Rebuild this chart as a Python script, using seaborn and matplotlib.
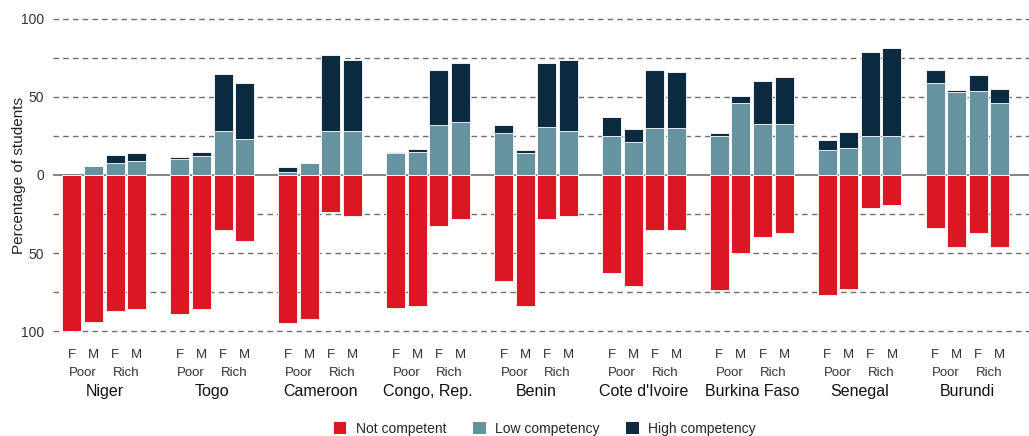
import numpy as np
import pandas as pd
import matplotlib
matplotlib.use("Agg")
import matplotlib.pyplot as plt
from matplotlib.patches import Patch
from matplotlib import transforms
import seaborn as sns

# ---------------- data ----------------
countries = ["Niger", "Togo", "Cameroon", "Congo, Rep.", "Benin",
             "Cote d'Ivoire", "Burkina Faso", "Senegal", "Burundi"]
sexes = ["F", "M", "F", "M"]
wealth = ["Poor", "Rich"]

# order per country: F Poor, M Poor, F Rich, M Rich
not_competent = [100, 94, 87, 86,
                 89, 86, 35, 42,
                 95, 92, 24, 26,
                 85, 84, 33, 28,
                 68, 84, 28, 26,
                 63, 71, 35, 35,
                 74, 50, 40, 37,
                 77, 73, 21, 19,
                 34, 46, 37, 46]
low_competency = [0, 6, 8, 9,
                  10, 12, 28, 23,
                  2, 8, 28, 28,
                  14, 15, 32, 34,
                  27, 14, 31, 28,
                  25, 21, 30, 30,
                  25, 46, 33, 33,
                  16, 17, 25, 25,
                  59, 53, 54, 46]
high_competency = [0, 0, 5, 5,
                   1.5, 2.5, 37, 36,
                   3, 0, 49, 46,
                   1, 1.5, 35.5, 38,
                   5, 2, 41, 46,
                   12, 8.5, 37, 36,
                   2, 4.5, 27, 30,
                   6.5, 10.5, 54, 56.5,
                   8.5, 1.5, 10, 9]

series_labels = ["Not competent", "Low competency", "High competency"]
colors = ["#DC1623", "#6594A0", "#0C2A40"]

# ---------------- build frame ----------------
rows = []
for i, c in enumerate(countries):
    for j in range(4):
        k = i * 4 + j
        rows.append(dict(country=c, sex=sexes[j], wealth=wealth[j // 2],
                         pos=i * 5 + j,
                         nc=-not_competent[k],
                         low=low_competency[k],
                         top=low_competency[k] + high_competency[k]))
df = pd.DataFrame(rows)

sns.set_theme(style="white")
plt.rcParams["font.family"] = ["Liberation Sans", "DejaVu Sans"]

W, H = 1029, 436
fig = plt.figure(figsize=(W / 100, H / 100), dpi=100)
ax_left, ax_right = 53, 1029
ax_top, ax_bot = 17.4, 332.6
aw, ah = ax_right - ax_left, ax_bot - ax_top
ax = fig.add_axes([ax_left / W, 1 - ax_bot / H, aw / W, ah / H])

bw = 0.88
common = dict(x="pos", native_scale=True, width=bw, errorbar=None,
              edgecolor="white", linewidth=0.6, ax=ax)
sns.barplot(data=df, y="top", color=colors[2], saturation=1, **common)
sns.barplot(data=df, y="low", color=colors[1], saturation=1, **common)
sns.barplot(data=df, y="nc", color=colors[0], saturation=1, **common)

ax.set_xlim(-0.88, 44.35)
ax.set_ylim(-101, 101)

# grid
for yv in [-100, -75, -50, -25, 25, 50, 75, 100]:
    ax.axhline(yv, color="#6e6e6e", lw=1.0, ls=(0, (4, 3)), zorder=0)
ax.axhline(0, color="#7a7a7a", lw=1.3, zorder=0.5)
ax.set_axisbelow(True)

for s in ax.spines.values():
    s.set_visible(False)

ax.set_yticks([-100, -50, 0, 50, 100])
ax.set_yticklabels(["100", "50", "0", "50", "100"], fontsize=10, color="#333333")
ax.tick_params(axis="y", length=0, pad=6.5)
ax.set_ylabel("Percentage of students", fontsize=11, color="#222222")
ax.yaxis.set_label_coords(-(ax_left - 26) / aw, 0.5)

ax.set_xticks(df["pos"].values)
ax.set_xticklabels(df["sex"].values, fontsize=9.5, color="#333333")
ax.tick_params(axis="x", length=0, pad=11.5)
ax.set_xlabel("")

trans = transforms.blended_transform_factory(ax.transData, ax.transAxes)
for i, c in enumerate(countries):
    base = i * 5
    ax.text(base + 0.5, -(373 - ax_bot) / ah, "Poor", transform=trans,
            ha="center", va="center", fontsize=9.5, color="#333333")
    ax.text(base + 2.5, -(373 - ax_bot) / ah, "Rich", transform=trans,
            ha="center", va="center", fontsize=9.5, color="#333333")
    ax.text(base + 1.5, -(391 - ax_bot) / ah, c, transform=trans,
            ha="center", va="center", fontsize=11.5, color="#111111")

handles = [Patch(facecolor=col, edgecolor="none", label=l) for col, l in zip(colors, series_labels)]
fig.legend(handles=handles, loc="center", bbox_to_anchor=(545 / W, 1 - 429 / H), ncol=3,
           frameon=False, fontsize=10, handlelength=0.9, handleheight=0.9,
           handletextpad=0.7, columnspacing=1.9)

fig.savefig("out.png", dpi=100)
